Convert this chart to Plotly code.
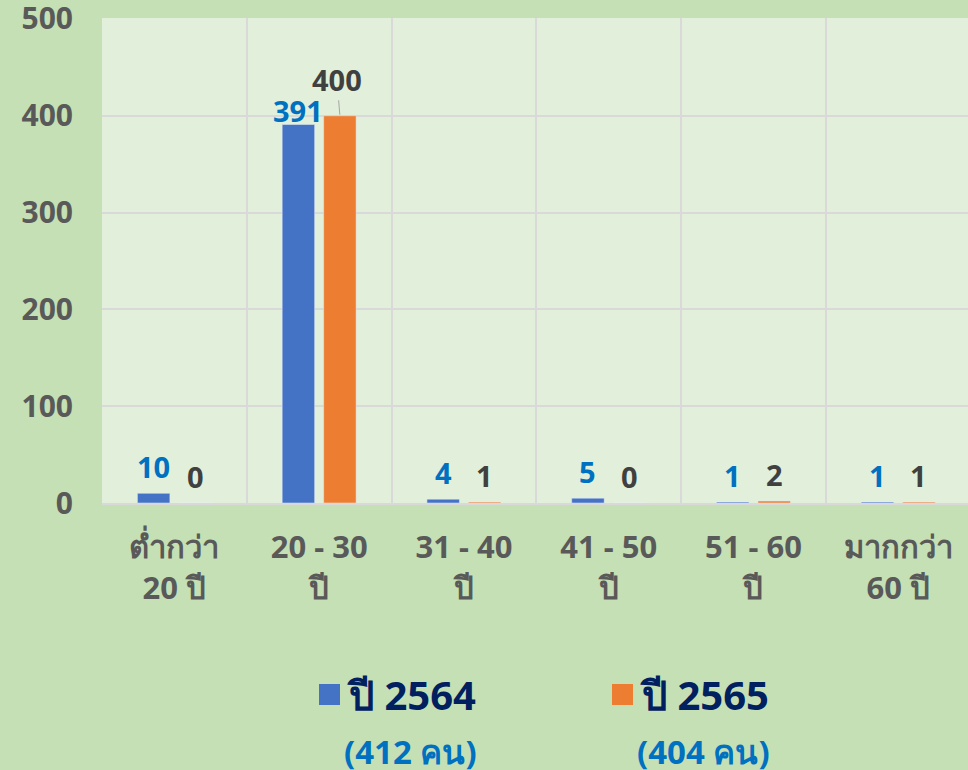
import plotly.graph_objects as go

# ข้อมูลจำนวนคนแยกตามช่วงอายุ
categories = ["ต่ำกว่า<br>20 ปี", "20 - 30<br>ปี", "31 - 40<br>ปี",
              "41 - 50<br>ปี", "51 - 60<br>ปี", "มากกว่า<br>60 ปี"]
series_names = ["ปี 2564", "ปี 2565"]
values_2564 = [10, 391, 4, 5, 1, 1]
values_2565 = [0, 400, 1, 0, 2, 1]
y_ticks = [0, 100, 200, 300, 400, 500]

BLUE = "#4472c4"
ORANGE = "#ed7d31"
FONT = "Noto Sans, DejaVu Sans, sans-serif"

# plot area in pixels (canvas 968x770)
L, R, T, B = 102, 968, 18, 503
W, H = 968, 770

def px(x):
    return (x - L) / (R - L)

def py(y):
    return (B - y) / (B - T)

fig = go.Figure()
fig.add_trace(go.Bar(x=categories, y=values_2564, name=series_names[0],
                     marker_color=BLUE, showlegend=False))
fig.add_trace(go.Bar(x=categories, y=values_2565, name=series_names[1],
                     marker_color=ORANGE, showlegend=False))

# ป้ายค่าบนแท่ง
label_colors = ["#0070c0", "#404040"]
bar_shift = 20.75
nudge = {(0, 1): (0, 14), (1, 1): (-3, 36.5)}  # ป้ายที่ขยับเอง
for s, vals in enumerate([values_2564, values_2565]):
    for i, v in enumerate(vals):
        dx, dy = nudge.get((s, i), (0, 27))
        base_x = -bar_shift if s == 0 else bar_shift
        ann = dict(x=categories[i], y=v, xref="x", yref="y", text=str(v),
                   font=dict(family=FONT, size=29, color=label_colors[s], weight="bold"),
                   xanchor="center", yanchor="middle", xshift=base_x)
        if (s, i) == (1, 1):
            ann.update(showarrow=True, arrowhead=0, arrowwidth=1, arrowcolor="#a6a6a6",
                       ax=dx, ay=-dy, standoff=1)
        else:
            ann.update(showarrow=False, xshift=base_x + dx, yshift=dy)
        fig.add_annotation(**ann)

# คำอธิบาย (legend) แบบวาดเอง
totals = [sum(values_2564), sum(values_2565)]
legend_x = [319, 612]
for k, name in enumerate(series_names):
    x0 = legend_x[k]
    fig.add_shape(type="rect", xref="paper", yref="paper",
                  x0=px(x0), x1=px(x0 + 21), y0=py(705), y1=py(684),
                  fillcolor=[BLUE, ORANGE][k], line_width=0)
    fig.add_annotation(xref="paper", yref="paper", x=px(x0 + 26), y=py(694),
                       text=name, showarrow=False, xanchor="left", yanchor="middle",
                       font=dict(family=FONT, size=40, color="#002060", weight="bold"))
    fig.add_annotation(xref="paper", yref="paper", x=px(x0 + 23), y=py(751),
                       text=f"({totals[k]} คน)", showarrow=False, xanchor="left",
                       yanchor="middle",
                       font=dict(family=FONT, size=33, color="#0070c0", weight="bold"))

fig.update_layout(
    width=W, height=H,
    margin=dict(l=L, r=W - R, t=T, b=H - B),
    paper_bgcolor="#c5e0b4",
    plot_bgcolor="#e2efda",
    barmode="group",
    bargap=0.427,
    bargroupgap=0.217,
    font=dict(family=FONT, color="#595959"),
)
fig.update_xaxes(
    type="category", range=[-0.5, 5.482], tickson="boundaries", automargin=False,
    showgrid=True, gridcolor="#d9d9d9", gridwidth=1.5,
    showline=True, linecolor="#d9d9d9", linewidth=2,
    ticks="", tickfont=dict(family=FONT, size=31, color="#595959", weight="bold"),
    ticklabelstandoff=16,
)
fig.update_yaxes(
    range=[0, 501], tickmode="array", tickvals=y_ticks, automargin=False,
    showgrid=True, gridcolor="#d9d9d9", gridwidth=1.5,
    zeroline=False, ticks="", ticklabeloverflow="allow",
    tickfont=dict(family=FONT, size=30, color="#595959", weight="bold"),
    ticklabelstandoff=28,
)

fig.write_html("out.html", config={"displayModeBar": False},
               post_script="document.body.style.margin='0';")
